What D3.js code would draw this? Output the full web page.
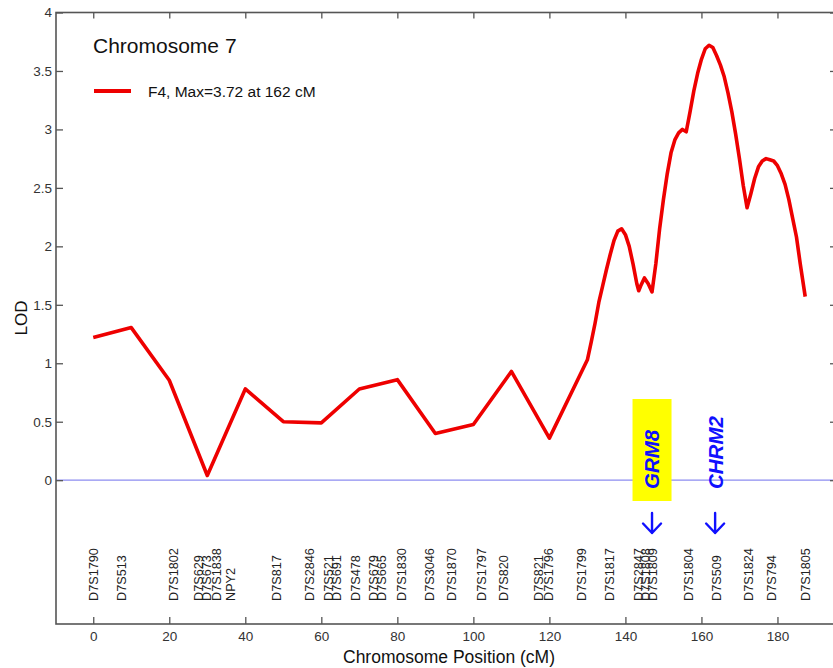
<!DOCTYPE html>
<html><head><meta charset="utf-8">
<script src="https://cdn.jsdelivr.net/npm/d3@7"></script>
<style>body{margin:0;background:#fff}svg{display:block}text{font-family:"Liberation Sans",Arial,Helvetica,sans-serif}</style>
</head><body><svg id="c" width="833" height="668"></svg>
<script>
// LOD curve, chromosome 7 (cM positions and LOD values)
const positions = [0,10,20,30,40,50,60,70,80,90,100,110,120,130,
  131,132,133,134,135,136,137,138,139,140,141,142,143,143.5,144,145,146,147,148,149,150,
  151,152,153,154,155,156,157,158,159,160,161,162,163,164,165,166,167,168,169,170,
  171,172,173,174,175,176,177,178,179,180,181,182,183,184,185,186,187.3];
const lod = [1.22,1.305,0.855,0.04,0.78,0.50,0.49,0.78,0.86,0.40,0.476,0.93,0.36,1.03,
  1.18,1.34,1.52,1.66,1.80,1.93,2.05,2.13,2.15,2.10,2.00,1.85,1.68,1.62,1.66,1.73,1.68,1.61,1.85,2.15,2.40,
  2.62,2.80,2.91,2.97,3.00,2.98,3.15,3.33,3.48,3.60,3.69,3.72,3.70,3.63,3.55,3.45,3.31,3.15,2.96,2.75,
  2.52,2.33,2.45,2.58,2.68,2.73,2.75,2.74,2.73,2.69,2.62,2.53,2.40,2.24,2.08,1.85,1.57];
// marker names and positions (cM)
const markerNames = ["D7S1790","D7S513","D7S1802","D7S629","D7S673","D7S1838","NPY2","D7S817","D7S2846",
  "D7S521","D7S691","D7S478","D7S679","D7S665","D7S1830","D7S3046","D7S1870","D7S1797","D7S820",
  "D7S821","D7S1796","D7S1799","D7S1817","D7S2847","D7S1808","D7S1809","D7S1804","D7S509","D7S1824",
  "D7S794","D7S1805"];
const markerPos = [0,7.5,21,27.6,29.8,32.5,36,48.3,57,61.8,64,68.9,73.7,75.9,81.2,88.4,94.3,102.2,107.9,
  117.1,119.7,128.3,135.8,143.4,145.3,147,156.6,164,172.4,178.5,187.3];
// candidate genes
const geneNames = ["GRM8","CHRM2"];
const genePos = [147.0,163.6];
const xTicks = [0,20,40,60,80,100,120,140,160,180];
const yTicks = [0,0.5,1,1.5,2,2.5,3,3.5,4];
const xTickLabels = xTicks.map(String);
const yTickLabels = yTicks.map(String);
const titleText = "Chromosome 7";
const legendText = "F4, Max=3.72 at 162 cM";

const svg = d3.select("#c");
const L = 56, R = 836, T = 12.5, B = 624;
const x = d3.scaleLinear().domain([-9.8,195.4]).range([L,R]);
const y = d3.scaleLinear().domain([-1.23,4]).range([B,T]);
const axisCol = "#555";

// zero line
svg.append("line").attr("x1",L).attr("x2",R).attr("y1",y(0)).attr("y2",y(0))
  .attr("stroke","#8c8cf0").attr("stroke-width",1.3);

// frame
svg.append("rect").attr("x",L).attr("y",T).attr("width",R-L).attr("height",B-T)
  .attr("fill","none").attr("stroke",axisCol).attr("stroke-width",1.6);

// ticks
const bottomAxis = d3.axisBottom(x).tickValues(xTicks).tickSizeInner(-7).tickSizeOuter(0)
  .tickPadding(7).tickFormat((d,i)=>xTickLabels[i]);
const gb = svg.append("g").attr("transform",`translate(0,${B})`).call(bottomAxis);
const topAxis = d3.axisTop(x).tickValues(xTicks).tickSizeInner(-6).tickSizeOuter(0).tickFormat("");
const gt = svg.append("g").attr("transform",`translate(0,${T})`).call(topAxis);
const leftAxis = d3.axisLeft(y).tickValues(yTicks).tickSizeInner(-7).tickSizeOuter(0)
  .tickPadding(4).tickFormat((d,i)=>yTickLabels[i]);
const gl = svg.append("g").attr("transform",`translate(${L},0)`).call(leftAxis);
const rightAxis = d3.axisRight(y).tickValues(yTicks).tickSizeInner(-6).tickSizeOuter(0).tickFormat("");
const gr = svg.append("g").attr("transform",`translate(${R},0)`).call(rightAxis);
[gb,gt,gl,gr].forEach(a=>{
  a.select(".domain").remove();
  a.selectAll(".tick line").attr("stroke",axisCol).attr("stroke-width",1.3);
  a.selectAll(".tick text").attr("fill","#333").style("font-size","13.5px")
   .style("font-family",'"Liberation Sans",Arial,sans-serif');
});

// curve
const pts = positions.map((p,i)=>[p,lod[i]]);
svg.append("path").datum(pts)
  .attr("d",d3.line().x(d=>x(d[0])).y(d=>y(d[1])).curve(d3.curveLinear))
  .attr("fill","none").attr("stroke","#ee0000").attr("stroke-width",3.6)
  .attr("stroke-linejoin","round").attr("stroke-linecap","butt");

// marker labels
svg.append("g").selectAll("text").data(markerNames).join("text")
  .attr("transform",(d,i)=>`translate(${x(markerPos[i])},601) rotate(-90)`)
  .attr("dy","0.36em").attr("text-anchor","start")
  .style("font-size","12.7px").attr("fill","#222").text(d=>d);

// genes
const gi = geneNames.indexOf("GRM8");
svg.append("rect").attr("x",x(genePos[gi])-19.5).attr("y",399).attr("width",39).attr("height",102)
  .attr("fill","#ffff00");
svg.append("g").selectAll("text").data(geneNames).join("text")
  .attr("transform",(d,i)=>`translate(${x(genePos[i])},489) rotate(-90)`)
  .attr("dy","0.36em").attr("text-anchor","start")
  .style("font-size","20.5px").style("font-weight","bold").style("font-style","italic")
  .attr("fill","#1010ff").text(d=>d);
const ag = svg.append("g").attr("stroke","#1010ff").attr("stroke-width",2.4).attr("fill","none")
  .attr("stroke-linecap","round").attr("stroke-linejoin","round");
genePos.forEach(p=>{
  const cx = x(p);
  ag.append("path").attr("d",`M${cx},513 L${cx},533 M${cx-9},523.5 L${cx},533 L${cx+9},523.5`);
});

// title & legend
svg.append("text").attr("x",93).attr("y",53).style("font-size","21px").attr("fill","#111").text(titleText);
svg.append("line").attr("x1",94).attr("x2",131).attr("y1",91).attr("y2",91)
  .attr("stroke","#ee0000").attr("stroke-width",4);
svg.append("text").attr("x",148).attr("y",96.5).style("font-size","15.5px").attr("fill","#111").text(legendText);

// axis titles
svg.append("text").attr("x",449).attr("y",663).attr("text-anchor","middle")
  .style("font-size","17.5px").attr("fill","#111").text("Chromosome Position (cM)");
svg.append("text").attr("transform","translate(27,318) rotate(-90)").attr("text-anchor","middle")
  .style("font-size","17px").attr("fill","#111").text("LOD");
</script></body></html>
